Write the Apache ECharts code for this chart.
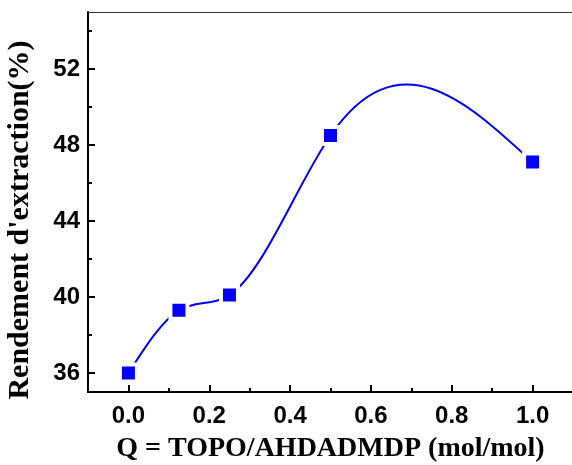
<!DOCTYPE html>
<html>
<head>
<meta charset="utf-8">
<script src="https://cdn.jsdelivr.net/npm/echarts@6/dist/echarts.min.js"></script>
<style>
  html, body { margin: 0; padding: 0; background: #fff; }
  #chart { width: 572px; height: 465px; }
</style>
</head>
<body>
<div id="chart"></div>
<script>
// Molar ratio Q = TOPO/AHDADMDP and the corresponding extraction yield (%)
const qRatio = [0, 0.125, 0.25, 0.5, 1.0];
const yieldPct = [36.0, 39.3, 40.1, 48.5, 47.1];

// Axis tick positions
const xMajorTicks = [0, 0.2, 0.4, 0.6, 0.8, 1.0];
const xMinorTicks = [0.1, 0.3, 0.5, 0.7, 0.9];
const yMajorTicks = [36, 40, 44, 48, 52];
const yMinorTicks = [38, 42, 46, 50, 54];

// Natural cubic spline: first derivatives at each knot
function splineSlopes(xs, ys) {
  const n = xs.length;
  const h = [], d = [];
  for (let i = 0; i < n - 1; i++) {
    h.push(xs[i + 1] - xs[i]);
    d.push((ys[i + 1] - ys[i]) / h[i]);
  }
  // Solve for second derivatives M (M0 = Mn-1 = 0)
  const M = new Array(n).fill(0);
  const m = n - 2;
  if (m > 0) {
    const a = [], b = [], c = [], r = [];
    for (let i = 1; i <= m; i++) {
      a.push(h[i - 1]);
      b.push(2 * (h[i - 1] + h[i]));
      c.push(h[i]);
      r.push(6 * (d[i] - d[i - 1]));
    }
    for (let i = 1; i < m; i++) {
      const w = a[i] / b[i - 1];
      b[i] -= w * c[i - 1];
      r[i] -= w * r[i - 1];
    }
    const sol = new Array(m);
    sol[m - 1] = r[m - 1] / b[m - 1];
    for (let i = m - 2; i >= 0; i--) sol[i] = (r[i] - c[i] * sol[i + 1]) / b[i];
    for (let i = 0; i < m; i++) M[i + 1] = sol[i];
  }
  const s = [];
  for (let i = 0; i < n - 1; i++) s.push(d[i] - h[i] * (2 * M[i] + M[i + 1]) / 6);
  s.push(d[n - 2] + h[n - 2] * (M[n - 2] + 2 * M[n - 1]) / 6);
  return s;
}

const slopes = splineSlopes(qRatio, yieldPct);
const points = qRatio.map((x, i) => [x, yieldPct[i]]);

const tickLabelFont = { fontFamily: 'Liberation Sans, Arial, sans-serif', fontWeight: 'bold', fontSize: 24, color: '#000' };
const serifBold = { fontFamily: 'Liberation Serif, Times New Roman, serif', fontWeight: 'bold', color: '#000' };

const chart = echarts.init(document.getElementById('chart'), null, { renderer: 'canvas' });

chart.setOption({
  animation: false,
  backgroundColor: '#fff',
  grid: { left: 88, top: 12, width: 485, height: 380, containLabel: false, outerBoundsMode: 'none' },
  xAxis: [
    {
      type: 'value', min: -0.1, max: 1.1,
      name: 'Q = TOPO/AHDADMDP (mol/mol)', nameLocation: 'middle', nameGap: 43,
      nameTextStyle: { ...serifBold, fontSize: 28 },
      axisLine: { show: true, onZero: false, lineStyle: { color: '#000', width: 2 } },
      axisTick: { show: true, inside: true, length: 7, customValues: xMajorTicks, lineStyle: { color: '#000', width: 2 } },
      axisLabel: { show: true, margin: 12, customValues: xMajorTicks, formatter: v => v.toFixed(1), ...tickLabelFont },
      splitLine: { show: false }
    },
    {
      type: 'value', min: -0.1, max: 1.1, position: 'bottom',
      axisLine: { show: false, onZero: false },
      axisTick: { show: true, inside: true, length: 4, customValues: xMinorTicks, lineStyle: { color: '#000', width: 2 } },
      axisLabel: { show: false },
      splitLine: { show: false }
    },
    {
      type: 'value', min: -0.1, max: 1.1, position: 'top',
      axisLine: { show: true, onZero: false, lineStyle: { color: '#333', width: 1 } },
      axisTick: { show: false }, axisLabel: { show: false }, splitLine: { show: false }
    }
  ],
  yAxis: [
    {
      type: 'value', min: 35, max: 55,
      name: "Rendement d'extraction(%)", nameLocation: 'middle', nameGap: 53, nameRotate: 90,
      nameTextStyle: { ...serifBold, fontSize: 30, padding: [0, 36, 0, 0] },
      axisLine: { show: true, onZero: false, lineStyle: { color: '#000', width: 2 } },
      axisTick: { show: true, inside: true, length: 7, customValues: yMajorTicks, lineStyle: { color: '#000', width: 2 } },
      axisLabel: { show: true, margin: 8, customValues: yMajorTicks, ...tickLabelFont },
      splitLine: { show: false }
    },
    {
      type: 'value', min: 35, max: 55, position: 'left',
      axisLine: { show: false, onZero: false },
      axisTick: { show: true, inside: true, length: 4, customValues: yMinorTicks, lineStyle: { color: '#000', width: 2 } },
      axisLabel: { show: false },
      splitLine: { show: false }
    }
  ],
  series: [
    {
      // Cubic spline through the measured points, drawn as Bezier segments
      type: 'custom',
      xAxisIndex: 0, yAxisIndex: 0,
      silent: true,
      data: points.slice(0, -1),
      renderItem: (params, api) => {
        const i = params.dataIndex;
        const x0 = qRatio[i], x1 = qRatio[i + 1];
        const y0 = yieldPct[i], y1 = yieldPct[i + 1];
        const h = x1 - x0;
        const p0 = api.coord([x0, y0]);
        const c0 = api.coord([x0 + h / 3, y0 + slopes[i] * h / 3]);
        const c1 = api.coord([x1 - h / 3, y1 - slopes[i + 1] * h / 3]);
        const p1 = api.coord([x1, y1]);
        return {
          type: 'bezierCurve',
          shape: { x1: p0[0], y1: p0[1], cpx1: c0[0], cpy1: c0[1], cpx2: c1[0], cpy2: c1[1], x2: p1[0], y2: p1[1] },
          style: { stroke: '#0000ff', lineWidth: 2, fill: null }
        };
      },
      z: 2
    },
    {
      type: 'scatter',
      xAxisIndex: 0, yAxisIndex: 0,
      silent: true,
      data: points,
      symbol: 'rect',
      symbolSize: 17,
      itemStyle: { color: '#0000ff', opacity: 1, borderColor: '#ffffff', borderWidth: 4 },
      z: 3
    }
  ]
});
</script>
</body>
</html>
